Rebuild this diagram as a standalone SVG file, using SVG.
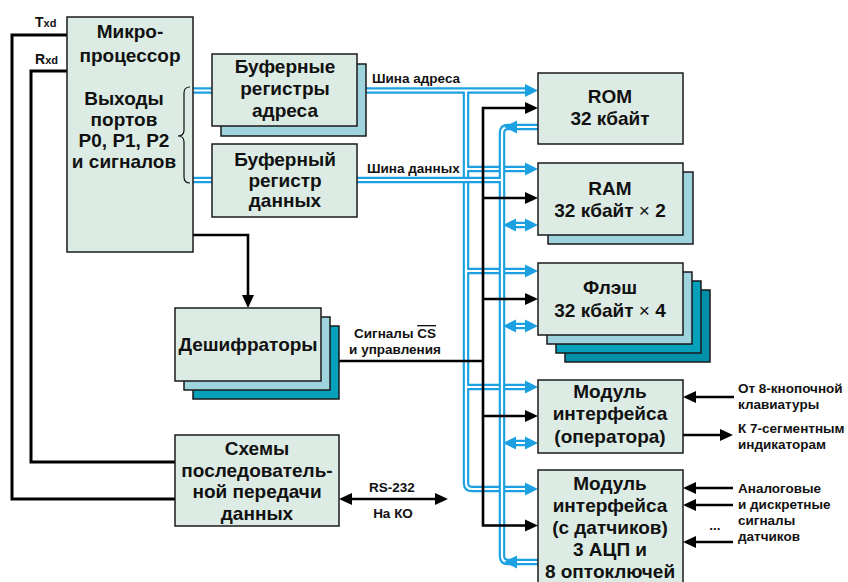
<svg xmlns="http://www.w3.org/2000/svg" width="848" height="582" viewBox="0 0 848 582">
<style>
text{font-family:"Liberation Sans",Arial,sans-serif;font-weight:bold;fill:#111}
.b{font-size:19px;text-anchor:middle}
.s{font-size:13.5px}
.m{text-anchor:middle}
.box{fill:#dcece4;stroke:#1a1a1a;stroke-width:1.5}
.sh1{fill:#9fd3de;stroke:#1a1a1a;stroke-width:1.5}
.sh2{fill:#05a0ba;stroke:#1a1a1a;stroke-width:1.5}
.sh3{fill:#008fa9;stroke:#1a1a1a;stroke-width:1.5}
.bw{fill:none;stroke:#1ba1e2;stroke-width:6.5}
.bi{fill:none;stroke:#fff;stroke-width:2.2}
.k{fill:none;stroke:#000;stroke-width:2.6}
.kt{fill:none;stroke:#000;stroke-width:3}
.ah{fill:#1ba1e2}
.kh{fill:#000}
.nw{font-weight:normal}
</style>
<g id="connectors">
  <!-- address bus -->
  <path class="bw" d="M193 90.5 H527 M466 90.5 V483 Q466 489 472 489 H527 M466 169 H527 M466 271 H527 M466 387 H527"/>
  <path class="bi" d="M193 90.5 H527 M466 90.5 V483 Q466 489 472 489 H527 M466 169 H527 M466 271 H527 M466 387 H527"/>
  <g class="ah">
    <polygon points="525,84 538,90.5 525,97"/>
    <polygon points="525,162.5 538,169 525,175.5"/>
    <polygon points="525,264.5 538,271 525,277.5"/>
    <polygon points="525,380.5 538,387 525,393.5"/>
    <polygon points="525,482.5 538,489 525,495.5"/>
  </g>
  <!-- data bus -->
  <path class="bw" d="M193 180 H502 M538 127 H508 Q502 127 502 133 V556 Q502 562 508 562 H538 M510 225 H531 M510 326 H531 M510 443 H531"/>
  <path class="bi" d="M193 180 H502 M538 127 H508 Q502 127 502 133 V556 Q502 562 508 562 H538 M510 225 H531 M510 326 H531 M510 443 H531"/>
  <g class="ah">
    <polygon points="517,120.5 504,127 517,133.5"/>
    <polygon points="517,555.5 504,562 517,568.5"/>
    <polygon points="516,218.5 503,225 516,231.5"/>
    <polygon points="525,218.5 538,225 525,231.5"/>
    <polygon points="516,319.5 503,326 516,332.5"/>
    <polygon points="525,319.5 538,326 525,332.5"/>
    <polygon points="516,436.5 503,443 516,449.5"/>
    <polygon points="525,436.5 538,443 525,449.5"/>
  </g>
  <!-- control bus -->
  <path class="k" d="M527 108 H483 V525.5 H527 M483 198 H527 M483 299 H527 M483 416 H527 M339 361 H483"/>
  <g class="kh">
    <polygon points="525,102 538,108 525,114"/>
    <polygon points="525,192 538,198 525,204"/>
    <polygon points="525,293 538,299 525,305"/>
    <polygon points="525,410 538,416 525,422"/>
    <polygon points="525,519.5 538,525.5 525,531.5"/>
  </g>
  <!-- micro to decoders -->
  <path class="k" d="M193 235 H248 V296"/>
  <polygon class="kh" points="242,295 248,308 254,295"/>
  <!-- Txd / Rxd -->
  <path class="kt" d="M67 35 H12 V499 H175"/>
  <path class="kt" d="M67 71 H31 V462 H175"/>
  <!-- RS-232 -->
  <path class="k" d="M350 499 H437"/>
  <polygon class="kh" points="352,493 339,499 352,505"/>
  <polygon class="kh" points="435,493 448,499 435,505"/>
  <!-- operator side -->
  <path class="k" d="M734 397 H694 M683 435 H722 M733 488 H694 M733 505 H694 M733 542 H694"/>
  <g class="kh">
    <polygon points="696,391 683,397 696,403"/>
    <polygon points="720,429 733,435 720,441"/>
    <polygon points="696,482 683,488 696,494"/>
    <polygon points="696,499 683,505 696,511"/>
    <polygon points="696,536 683,542 696,548"/>
  </g>
</g>
<g id="labels">
  <text x="35" y="27" font-size="14">T<tspan font-size="11">xd</tspan></text>
  <text x="35" y="64" font-size="14">R<tspan font-size="11">xd</tspan></text>
  <text class="s" x="372" y="83">Шина адреса</text>
  <text class="s" x="367" y="173">Шина данных</text>
  <text class="s m" x="395" y="338">Сигналы <tspan style="text-decoration:overline">CS</tspan></text>
  <text class="s m" x="395" y="354">и управления</text>
  <text class="s m" x="392" y="492">RS-232</text>
  <text class="s m" x="393" y="518">На КО</text>
  <text class="s" x="738" y="393">От 8-кнопочной</text>
  <text class="s" x="738" y="409">клавиатуры</text>
  <text class="s" x="738" y="433">К 7-сегментным</text>
  <text class="s" x="738" y="449">индикаторам</text>
  <text class="s" x="738" y="493">Аналоговые</text>
  <text class="s" x="738" y="509">и дискретные</text>
  <text class="s" x="738" y="525">сигналы</text>
  <text class="s" x="738" y="541">датчиков</text>
  <text class="s m" x="715" y="530">...</text>
</g>
<g id="micro">
  <rect class="box" x="67" y="17" width="126" height="235"/>
  <path d="M190 87 Q184 87 184 93 V130 Q184 136 178 136 Q184 136 184 142 V177 Q184 183 190 183" fill="none" stroke="#111" stroke-width="1.2"/>
  <text class="b" x="130" y="38">Микро-</text>
  <text class="b" x="130" y="62">процессор</text>
  <text class="b" x="124" y="105">Выходы</text>
  <text class="b" x="124" y="126">портов</text>
  <text class="b" x="124" y="147">P0, P1, P2</text>
  <text class="b" x="124" y="168">и сигналов</text>
</g>
<g id="buf-addr">
  <rect class="sh1" x="221" y="64" width="145" height="72"/>
  <rect class="box" x="212" y="54" width="145" height="72"/>
  <text class="b" x="285" y="73">Буферные</text>
  <text class="b" x="285" y="95">регистры</text>
  <text class="b" x="285" y="117">адреса</text>
</g>
<g id="buf-data">
  <rect class="box" x="212" y="144" width="145" height="73"/>
  <text class="b" x="285" y="166">Буферный</text>
  <text class="b" x="285" y="187">регистр</text>
  <text class="b" x="285" y="207">данных</text>
</g>
<g id="decoders">
  <rect class="sh2" x="193" y="326" width="146" height="73"/>
  <rect class="sh1" x="184" y="317" width="146" height="73"/>
  <rect class="box" x="175" y="308" width="146" height="73"/>
  <text class="b" x="248" y="351">Дешифраторы</text>
</g>
<g id="serial">
  <rect class="box" x="175" y="435" width="164" height="91"/>
  <text class="b" x="257" y="455">Схемы</text>
  <text class="b" x="257" y="477">последователь-</text>
  <text class="b" x="257" y="498">ной передачи</text>
  <text class="b" x="257" y="520">данных</text>
</g>
<g id="rom">
  <rect class="box" x="538" y="73" width="145" height="71"/>
  <text class="b" x="610" y="103">ROM</text>
  <text class="b" x="610" y="125">32 кбайт</text>
</g>
<g id="ram">
  <rect class="sh1" x="548" y="172" width="145" height="72"/>
  <rect class="box" x="538" y="163" width="145" height="72"/>
  <text class="b" x="610" y="195">RAM</text>
  <text class="b" x="610" y="217">32 кбайт <tspan class="nw">×</tspan> 2</text>
</g>
<g id="flash">
  <rect class="sh3" x="565" y="290" width="145" height="72"/>
  <rect class="sh2" x="556" y="281" width="145" height="72"/>
  <rect class="sh1" x="547" y="272" width="145" height="72"/>
  <rect class="box" x="538" y="263" width="145" height="72"/>
  <text class="b" x="610" y="294">Флэш</text>
  <text class="b" x="610" y="317">32 кбайт <tspan class="nw">×</tspan> 4</text>
</g>
<g id="operator">
  <rect class="box" x="538" y="380" width="145" height="73"/>
  <text class="b" x="610" y="398">Модуль</text>
  <text class="b" x="610" y="420">интерфейса</text>
  <text class="b" x="610" y="443">(оператора)</text>
</g>
<g id="sensors">
  <rect class="box" x="538" y="470" width="145" height="130"/>
  <text class="b" x="610" y="490">Модуль</text>
  <text class="b" x="610" y="512">интерфейса</text>
  <text class="b" x="610" y="534">(с датчиков)</text>
  <text class="b" x="610" y="556">3 АЦП и</text>
  <text class="b" x="610" y="578">8 оптоключей</text>
</g>
</svg>
